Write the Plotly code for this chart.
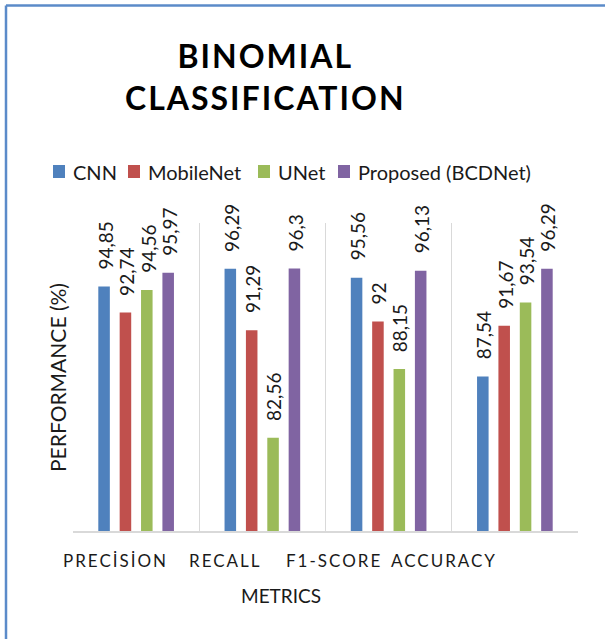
import json
import plotly.graph_objects as go

# Metrics on the category axis and the four models being compared
metrics = ["PRECİSİON", "RECALL", "F1-SCORE", "ACCURACY"]
models = ["CNN", "MobileNet", "UNet", "Proposed (BCDNet)"]

cnn = [94.85, 96.29, 95.56, 87.54]
mobilenet = [92.74, 91.29, 92, 91.67]
unet = [94.56, 82.56, 88.15, 93.54]
proposed = [95.97, 96.3, 96.13, 96.29]

series = [cnn, mobilenet, unet, proposed]
colors = ["#4F81BD", "#C0504D", "#9BBB59", "#8064A2"]

W, H = 605, 639
ML, MR, MT, MB = 73, 27, 223, 108
PW, PH = W - ML - MR, H - MT - MB
BARGAP, GROUPGAP = 0.323, 0.46
FONT = "Lato"
INK = "#1a1a1a"


def px_x(p):
    return (p - ML) / PW


def px_y(p):
    return (H - MB - p) / PH


def fmt(v):
    return f"{v:g}".replace(".", ",")


fig = go.Figure()
for name, vals, col in zip(models, series, colors):
    fig.add_trace(go.Bar(
        name=name, x=metrics, y=vals, showlegend=False,
        marker=dict(color=col, line=dict(width=0)),
    ))

# Value labels, rotated, sitting above each bar
slot = (1 - BARGAP) / len(series)
annotations = []
for k, vals in enumerate(series):
    for i, v in enumerate(vals):
        annotations.append(dict(
            x=i + (k - (len(series) - 1) / 2) * slot, y=v,
            xref="x", yref="y", text=fmt(v), textangle=-90,
            showarrow=False, xanchor="center", yanchor="bottom",
            yshift=15, xshift=1,
            font=dict(family=FONT, size=19, color=INK),
        ))

# Category labels under the axis
label_pos = [-0.16, 0.708, 1.567, 2.44]
for lx, m in zip(label_pos, metrics):
    annotations.append(dict(
        x=lx, y=px_y(560), xref="x", yref="paper", text=m,
        showarrow=False, xanchor="center", yanchor="middle",
        font=dict(family=FONT, size=17, color=INK),
    ))

# Title, axis titles
annotations += [
    dict(x=px_x(265), y=px_y(76), xref="paper", yref="paper",
         text="<b>BINOMIAL</b><br><b>CLASSIFICATION</b>", showarrow=False,
         xanchor="center", yanchor="middle",
         font=dict(family=FONT, size=32, color="#000000")),
    dict(x=px_x(57), y=px_y(378), xref="paper", yref="paper",
         text="PERFORMANCE (%)", textangle=-90, showarrow=False,
         xanchor="center", yanchor="middle",
         font=dict(family=FONT, size=21, color=INK)),
    dict(x=px_x(281), y=px_y(595), xref="paper", yref="paper",
         text="METRICS", showarrow=False,
         xanchor="center", yanchor="middle",
         font=dict(family=FONT, size=19, color=INK)),
]

# Frame lines along the top and left edge of the chart area
frame = dict(color="#5B8BC9", width=2.5)
shapes = [
    dict(type="line", xref="paper", yref="paper",
         x0=px_x(6), x1=px_x(W + 20), y0=px_y(5.5), y1=px_y(5.5), line=frame),
    dict(type="line", xref="paper", yref="paper",
         x0=px_x(6), x1=px_x(6), y0=px_y(5.5), y1=px_y(H + 20), line=frame),
]

# Legend row: colour swatch followed by the model name
swatch_left = [53, 128, 258, 338]
for left, name, col in zip(swatch_left, models, colors):
    shapes.append(dict(
        type="rect", xref="paper", yref="paper",
        x0=px_x(left), x1=px_x(left + 12), y0=px_y(178), y1=px_y(165),
        fillcolor=col, line=dict(width=0),
    ))
    annotations.append(dict(
        x=px_x(left + 18), y=px_y(172), xref="paper", yref="paper",
        text=name, showarrow=False, xanchor="left", yanchor="middle",
        font=dict(family=FONT, size=20, color=INK),
    ))

fig.update_layout(
    width=W, height=H,
    margin=dict(l=ML, r=MR, t=MT, b=MB, pad=0),
    paper_bgcolor="white", plot_bgcolor="white",
    barmode="group", bargap=BARGAP, bargroupgap=GROUPGAP,
    showlegend=False,
    annotations=annotations, shapes=shapes,
    xaxis=dict(type="category", tickson="boundaries", showgrid=True,
               gridcolor="#D9D9D9", gridwidth=1, showticklabels=False,
               ticks="", showline=True, linecolor="#D9D9D9", linewidth=2,
               range=[-0.5, 3.5], zeroline=False),
    yaxis=dict(range=[75, 100], showgrid=False, showticklabels=False,
               ticks="", zeroline=False, showline=False),
)

spacing = {
    "BINOMIALCLASSIFICATION": "2px",
    "PRECİSİON": "2px", "RECALL": "2px",
    "F1-SCORE": "2px", "ACCURACY": "2px",
}

post = """
var gd = document.getElementById('{plot_id}');
var sp = %s;
function applySpacing() {
  gd.querySelectorAll('.annotation-text').forEach(function (t) {
    var s = sp[t.textContent];
    if (s) { t.style.letterSpacing = s; }
  });
}
applySpacing();
if (gd.on) { gd.on('plotly_afterplot', applySpacing); }
""" % json.dumps(spacing, ensure_ascii=False)

fig.write_html("out.html", post_script=post)
